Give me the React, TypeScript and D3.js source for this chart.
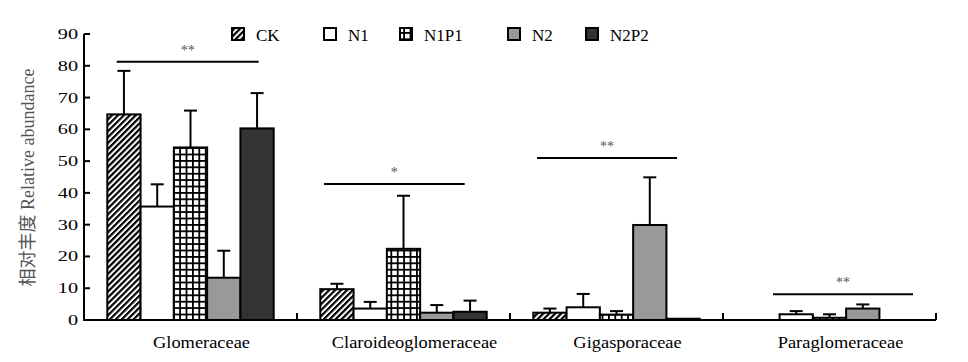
import React, { useEffect, useRef } from 'react';
import * as d3 from 'd3';

const categories = ['Glomeraceae', 'Claroideoglomeraceae', 'Gigasporaceae', 'Paraglomeraceae'];
const series = ['CK', 'N1', 'N1P1', 'N2', 'N2P2'];

// mean values per series, one entry per category
const ckValues = [64.7, 9.7, 2.3, 0];
const n1Values = [35.7, 3.6, 4.0, 1.8];
const n1p1Values = [54.3, 22.4, 1.7, 0.7];
const n2Values = [13.3, 2.3, 29.9, 3.6];
const n2p2Values = [60.3, 2.6, 0.4, 0];

// upper error (SD)
const ckErr = [13.7, 1.7, 1.3, 0];
const n1Err = [7.0, 2.1, 4.2, 1.0];
const n1p1Err = [11.6, 16.7, 1.1, 1.1];
const n2Err = [8.5, 2.4, 15.0, 1.3];
const n2p2Err = [11.1, 3.5, 0, 0];

const sigMarks = ['**', '*', '**', '**'];
const sigLevels = [81.3, 42.8, 51.0, 8.1];

const yTicks = [0, 10, 20, 30, 40, 50, 60, 70, 80, 90];

export default function App() {
  const svgRef = useRef<SVGSVGElement>(null);

  useEffect(() => {
    if (!svgRef.current) return;
    const width = 968;
    const height = 362;
    const svg = d3.select(svgRef.current).attr('width', width).attr('height', height);
    svg.selectAll('*').remove();

    const left = 84;
    const right = 936;
    const y0 = 320;
    const yTop = 34;
    const serif = '"Liberation Serif", "Times New Roman", serif';

    const values = [ckValues, n1Values, n1p1Values, n2Values, n2p2Values];
    const errs = [ckErr, n1Err, n1p1Err, n2Err, n2p2Err];

    const x0 = d3.scaleBand<string>().domain(categories).range([left, right]);
    const x1 = d3.scaleBand<string>().domain(series).range([0, x0.bandwidth()]).paddingInner(0).paddingOuter(0.7);
    const y = d3.scaleLinear().domain([0, 90]).range([y0, yTop]);

    const defs = svg.append('defs');
    const stripe = defs.append('pattern')
      .attr('id', 'stripe')
      .attr('patternUnits', 'userSpaceOnUse')
      .attr('width', 4.2)
      .attr('height', 4.2)
      .attr('patternTransform', 'rotate(45)');
    stripe.append('rect').attr('width', 4.2).attr('height', 4.2).attr('fill', '#fff');
    stripe.append('rect').attr('width', 2.2).attr('height', 4.2).attr('fill', '#000');

    const grid = defs.append('pattern')
      .attr('id', 'grid')
      .attr('patternUnits', 'userSpaceOnUse')
      .attr('width', 6.4)
      .attr('height', 6.4);
    grid.append('rect').attr('width', 6.4).attr('height', 6.4).attr('fill', '#fff');
    grid.append('rect').attr('width', 1.8).attr('height', 6.4).attr('fill', '#000');
    grid.append('rect').attr('width', 6.4).attr('height', 1.8).attr('fill', '#000');

    const fills: Record<string, string> = {
      CK: 'url(#stripe)',
      N1: '#ffffff',
      N1P1: 'url(#grid)',
      N2: '#999999',
      N2P2: '#333333',
    };

    // bars
    const g = svg.append('g');
    categories.forEach((cat, ci) => {
      series.forEach((s, si) => {
        const v = values[si][ci];
        if (v <= 0) return;
        const bx = x0(cat)! + x1(s)!;
        const bw = x1.bandwidth();
        g.append('rect')
          .attr('x', bx)
          .attr('y', y(v))
          .attr('width', bw)
          .attr('height', y0 - y(v))
          .attr('fill', fills[s])
          .attr('stroke', '#000')
          .attr('stroke-width', 2);
        const e = errs[si][ci];
        if (e > 0) {
          const cx = bx + bw / 2;
          g.append('line')
            .attr('x1', cx).attr('x2', cx)
            .attr('y1', y(v)).attr('y2', y(v + e))
            .attr('stroke', '#000').attr('stroke-width', 2);
          g.append('line')
            .attr('x1', cx - 6.5).attr('x2', cx + 6.5)
            .attr('y1', y(v + e)).attr('y2', y(v + e))
            .attr('stroke', '#000').attr('stroke-width', 2);
        }
      });
    });

    // significance lines
    const sigOffsets = [[32.7, 174.7], [27, 167.7], [27, 167], [50, 190]];
    categories.forEach((cat, ci) => {
      const gx = x0(cat)!;
      const ly = y(sigLevels[ci]);
      const [a, b] = sigOffsets[ci];
      svg.append('line')
        .attr('x1', gx + a).attr('x2', gx + b)
        .attr('y1', ly).attr('y2', ly)
        .attr('stroke', '#000').attr('stroke-width', 2);
      svg.append('text')
        .attr('x', gx + (a + b) / 2)
        .attr('y', ly - 7)
        .attr('text-anchor', 'middle')
        .attr('font-family', serif)
        .attr('font-size', 14)
        .attr('fill', '#555')
        .text(sigMarks[ci]);
    });

    // axes
    svg.append('line')
      .attr('x1', left).attr('x2', left)
      .attr('y1', yTop).attr('y2', y0 + 1)
      .attr('stroke', '#000').attr('stroke-width', 2);
    svg.append('line')
      .attr('x1', left - 1).attr('x2', right)
      .attr('y1', y0).attr('y2', y0)
      .attr('stroke', '#000').attr('stroke-width', 2);

    yTicks.forEach(t => {
      svg.append('line')
        .attr('x1', left).attr('x2', left + 6)
        .attr('y1', y(t)).attr('y2', y(t))
        .attr('stroke', '#000').attr('stroke-width', 2);
      svg.append('text')
        .attr('transform', `translate(${left - 6},${y(t) + 5}) scale(1.35,1)`)
        .attr('text-anchor', 'end')
        .attr('font-family', serif)
        .attr('font-size', 15)
        .attr('fill', '#000')
        .text(t);
    });

    // category boundary ticks
    categories.forEach(cat => {
      const tx = x0(cat)! + x0.bandwidth();
      svg.append('line')
        .attr('x1', tx).attr('x2', tx)
        .attr('y1', y0).attr('y2', y0 - 7)
        .attr('stroke', '#000').attr('stroke-width', 2);
    });

    // category labels
    categories.forEach(cat => {
      const cx = x0(cat)! + x0.bandwidth() / 2 + 11;
      svg.append('text')
        .attr('transform', `translate(${cx},348) scale(1.15,1)`)
        .attr('text-anchor', 'middle')
        .attr('font-family', serif)
        .attr('font-size', 16)
        .attr('fill', '#000')
        .text(cat);
    });

    // y label
    svg.append('text')
      .attr('transform', `translate(34,177.5) rotate(-90)`)
      .attr('text-anchor', 'middle')
      .attr('font-family', `${serif}, "Noto Sans CJK SC"`)
      .attr('font-size', 18)
      .attr('fill', '#555')
      .text('相对丰度 Relative abundance');

    // legend
    const legendX = [232, 324, 400, 508, 586];
    series.forEach((s, i) => {
      svg.append('rect')
        .attr('x', legendX[i])
        .attr('y', 28)
        .attr('width', 12)
        .attr('height', 12)
        .attr('fill', fills[s])
        .attr('stroke', '#000')
        .attr('stroke-width', 2);
      svg.append('text')
        .attr('x', legendX[i] + 24)
        .attr('y', 41)
        .attr('font-family', serif)
        .attr('font-size', 17)
        .attr('fill', '#000')
        .text(s);
    });
  }, []);

  return (
    <svg ref={svgRef} style={{ position: 'absolute', left: 0, top: 0, background: '#fff' }} />
  );
}
